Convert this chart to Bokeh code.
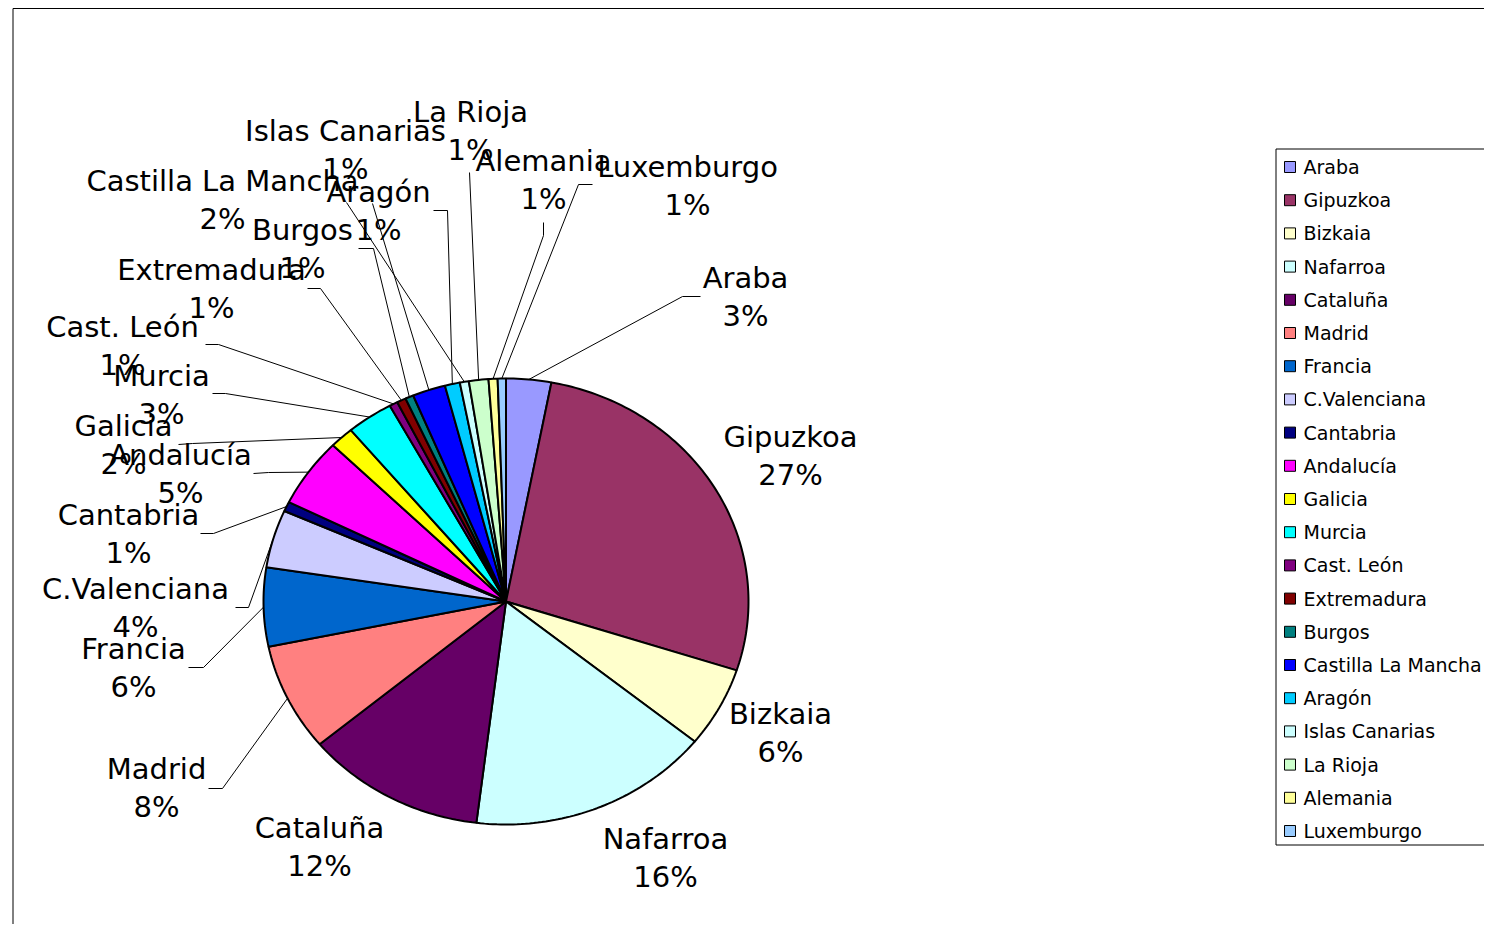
import math
from bokeh.plotting import figure
from bokeh.models import Range1d, ColumnDataSource
from bokeh.core.properties import value
from bokeh.embed import file_html
from bokeh.resources import INLINE

# ---------------- data ----------------
categories = ["Araba", "Gipuzkoa", "Bizkaia", "Nafarroa", "Cataluña", "Madrid",
              "Francia", "C.Valenciana", "Cantabria", "Andalucía", "Galicia",
              "Murcia", "Cast. León", "Extremadura", "Burgos", "Castilla La Mancha",
              "Aragón", "Islas Canarias", "La Rioja", "Alemania", "Luxemburgo"]
values = [3.0, 27.0, 5.8, 16.15, 12.0, 7.8,
          5.7, 4.2, 0.7, 5.0, 1.6,
          3.1, 0.55, 0.6, 0.55, 2.2,
          1.0, 0.6, 1.3, 0.6, 0.55]
colors = ["#9999FF", "#993366", "#FFFFCC", "#CCFFFF", "#660066", "#FF8080",
          "#0066CC", "#CCCCFF", "#000080", "#FF00FF", "#FFFF00",
          "#00FFFF", "#800080", "#800000", "#008080", "#0000FF",
          "#00CCFF", "#CCFFFF", "#CCFFCC", "#FFFF99", "#99CCFF"]

# ---------------- layout (screen pixel coordinates) ----------------
W, H = 1484, 924
CX, CY, RX, RY = 505.5, 601.0, 242.5, 223.0
LINE_GAP = 38
label_pos = [(745, 277), (790, 436), (780, 713), (665, 838), (319, 827), (156, 768),
             (133, 648), (135, 588), (128, 514), (180, 454), (123, 425),
             (161, 375), (122, 326), (211, 269), (302, 229), (222, 180),
             (378, 191), (345, 130), (470, 111), (543, 160), (687, 166)]
leader_pts = [[(682, 296), (700, 296)], [], [], [], [], [(222, 788), (208, 788)],
              [(203, 667), (188, 667)], [(248, 607), (235, 607)], [(213, 533), (200, 533)],
              [(268, 472), (253, 473)], [(192, 443), (178, 444)],
              [(225, 393), (212, 393)], [(218, 344), (205, 344)], [(320, 288), (307, 288)],
              [(373, 248), (358, 248)], [(372, 203)],
              [(447, 210), (433, 210)], [(346, 202)], [(469, 172)],
              [(543, 235), (543, 222)], [(578, 184), (592, 184)]]
LEG_X, LEG_Y0, LEG_DY = 1289.5, 166.5, 33.2
FONT = value("DejaVu Sans")

p = figure(width=W, height=H, x_range=Range1d(0, W), y_range=Range1d(H, 0),
           output_backend="svg", toolbar_location=None, min_border=0)
p.axis.visible = False
p.grid.visible = False
p.outline_line_color = None
p.background_fill_color = "white"
p.border_fill_color = "white"

# chart area border (top and left edges visible)
p.line([12.5, 12.5, 1600], [1000, 8.0, 8.0], line_color="black", line_width=1)

# ---------------- pie ----------------
total = sum(values)
xs, ys, mids = [], [], []
a = 0.0
for v in values:
    a0 = a
    a1 = a + v / total * 2 * math.pi
    n = max(3, int(math.degrees(a1 - a0)) + 3)
    ts = [a0 + (a1 - a0) * k / (n - 1) for k in range(n)]
    xs.append([CX] + [CX + RX * math.sin(t) for t in ts])
    ys.append([CY] + [CY - RY * math.cos(t) for t in ts])
    mids.append((a0 + a1) / 2)
    a = a1
p.patches(xs, ys, fill_color=colors, line_color="black", line_width=2)

# leader lines
lx, ly = [], []
for m, pts in zip(mids, leader_pts):
    if not pts:
        continue
    sx = CX + RX * math.sin(m)
    sy = CY - RY * math.cos(m)
    lx.append([sx] + [q[0] for q in pts])
    ly.append([sy] + [q[1] for q in pts])
p.multi_line(lx, ly, line_color="black", line_width=1)

# data labels
pcts = [f"{int(round(v / total * 100))}%" for v in values]
lab = ColumnDataSource(dict(
    x=[q[0] for q in label_pos], y=[q[1] for q in label_pos],
    y2=[q[1] + LINE_GAP for q in label_pos], name=categories, pct=pcts))
p.text(x="x", y="y", text="name", source=lab, text_font=FONT, text_font_size="29px",
       text_align="center", text_baseline="middle", text_color="black")
p.text(x="x", y="y2", text="pct", source=lab, text_font=FONT, text_font_size="29px",
       text_align="center", text_baseline="middle", text_color="black")

# ---------------- legend ----------------
p.quad(left=[1275.5], right=[1600], top=[148.5], bottom=[844.5],
       fill_color="white", line_color="black", line_width=1)
leg = ColumnDataSource(dict(
    x=[LEG_X] * len(categories),
    tx=[LEG_X + 13.5] * len(categories),
    y=[LEG_Y0 + i * LEG_DY for i in range(len(categories))],
    name=categories, color=colors))
p.rect(x="x", y="y", width=11, height=11, source=leg, fill_color="color",
       line_color="black", line_width=1)
p.text(x="tx", y="y", text="name", source=leg, text_font=FONT, text_font_size="19px",
       text_align="left", text_baseline="middle", text_color="black")

open("out.html", "w").write(file_html(p, INLINE))
